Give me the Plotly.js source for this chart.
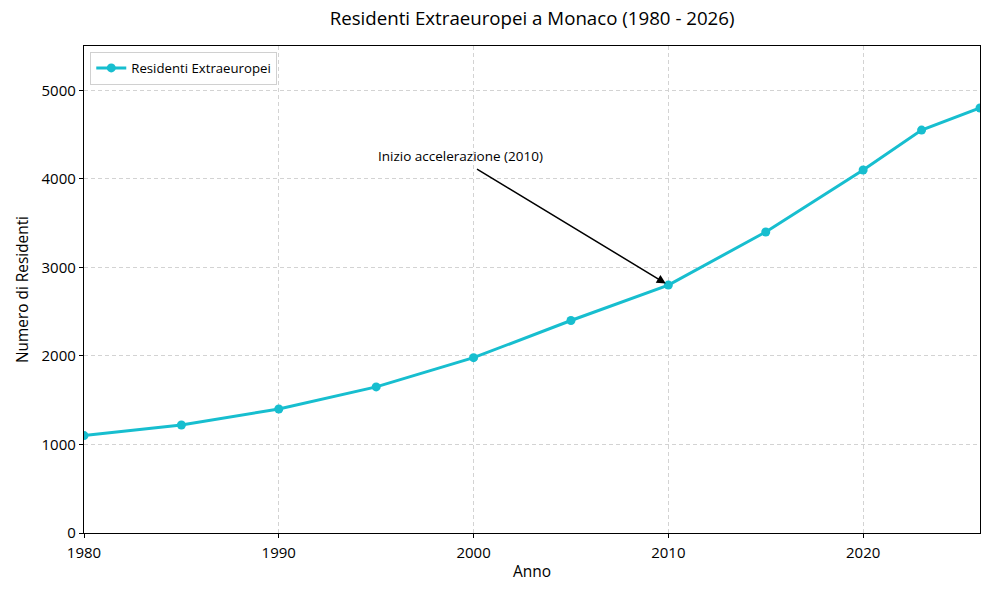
<!DOCTYPE html>
<html>
<head>
<meta charset="utf-8">
<script src="https://cdn.plot.ly/plotly-3.0.1.min.js"></script>
<style>
  html,body{margin:0;padding:0;background:#fff;}
  #chart{width:989px;height:590px;}
</style>
</head>
<body>
<div id="chart"></div>
<script>
// data
var anni = [1980, 1985, 1990, 1995, 2000, 2005, 2010, 2015, 2020, 2023, 2026]
var residenti = [1100, 1220, 1400, 1650, 1980, 2400, 2800, 3400, 4100, 4550, 4800]
var nomeSerie = 'Residenti Extraeuropei'
var notaTesto = 'Inizio accelerazione (2010)'

var font = '"Open Sans", Lato, sans-serif'

var trace1 = {
  x: anni,
  y: residenti,
  name: nomeSerie,
  mode: 'lines+markers',
  type: 'scatter',
  line: {color: '#17becf', width: 3},
  marker: {color: '#17becf', size: 9},
  showlegend: true
}

var griglia = {
  showgrid: true, gridcolor: '#d3d3d3', griddash: '4px,3px', gridwidth: 1,
  showline: true, mirror: true, linecolor: '#000', linewidth: 1.2,
  ticks: 'outside', ticklen: 4, tickcolor: '#000',
  zeroline: false,
  tickfont: {size: 15}
}

var layout = {
  width: 989,
  height: 590,
  margin: {l: 84, r: 9, t: 46, b: 57},
  paper_bgcolor: '#fff',
  plot_bgcolor: '#fff',
  font: {family: font, color: '#000', size: 14},
  title: {
    text: 'Residenti Extraeuropei a Monaco (1980 - 2026)',
    font: {size: 18.7, family: font, color: '#000'},
    x: 0.538, xanchor: 'center', y: 0.968, yanchor: 'middle'
  },
  xaxis: Object.assign({}, griglia, {
    range: [1980, 2026],
    dtick: 10, tick0: 1980,
    ticklabelstandoff: 2,
    title: {text: 'Anno', font: {size: 15.5}, standoff: 5}
  }),
  yaxis: Object.assign({}, griglia, {
    range: [0, 5500],
    dtick: 1000,
    title: {text: 'Numero di Residenti', font: {size: 15.4}, standoff: 9}
  }),
  legend: {
    x: 0.007, y: 0.988, xanchor: 'left', yanchor: 'top',
    bgcolor: 'rgba(255,255,255,0.8)',
    bordercolor: '#d0d0d0', borderwidth: 1,
    font: {size: 13.2},
    itemwidth: 30
  },
  annotations: [
    {
      // arrow only
      x: 2010, y: 2800, xref: 'x', yref: 'y',
      ax: 2000.1, ay: 4120, axref: 'x', ayref: 'y',
      text: '', showarrow: true,
      arrowhead: 2, arrowsize: 1.2, arrowwidth: 1.5, arrowcolor: '#000',
      standoff: 3
    },
    {
      x: 1995, y: 4255, xref: 'x', yref: 'y',
      xanchor: 'left', yanchor: 'middle',
      text: notaTesto, showarrow: false,
      font: {size: 13.5, color: '#000'}
    }
  ]
}

Plotly.newPlot('chart', [trace1], layout, {displayModeBar: false, staticPlot: true})
</script>
</body>
</html>
